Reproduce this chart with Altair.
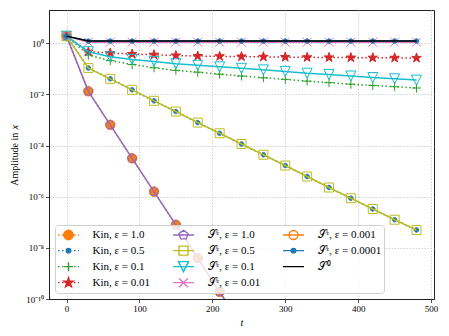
import altair as alt
import pandas as pd

# ---------------- data ----------------
t = [0, 30, 60, 90, 120, 150, 180, 210, 240, 270, 300, 330, 360, 390, 420, 450, 480]

kin_1_0 = [1.9, 1.32e-2, 6.46e-4, 3.16e-5, 1.58e-6, 7.94e-8, 3.98e-9, 1.91e-10, 9.5e-12,
           None, None, None, None, None, None, None, None]
kin_0_5 = [1.9, 0.107, 0.0407, 0.0151, 5.62e-3, 2.14e-3, 7.94e-4, 3.02e-4, 1.15e-4,
           4.37e-5, 1.66e-5, 6.17e-6, 2.29e-6, 8.71e-7, 3.31e-7, 1.26e-7, 5.01e-8]
kin_0_1 = [1.9, 0.347, 0.209, 0.148, 0.110, 0.0871, 0.0741, 0.0617, 0.0525,
           0.0447, 0.0389, 0.0331, 0.0288, 0.0251, 0.0224, 0.0200, 0.0178]
kin_0_01 = [1.9, 0.468, 0.417, 0.380, 0.355, 0.331, 0.316, 0.309, 0.302,
            0.295, 0.288, 0.282, 0.279, 0.275, 0.272, 0.269, 0.266]
s_1_0 = [1.9, 1.32e-2, 6.46e-4, 3.16e-5, 1.58e-6, 7.94e-8, 3.98e-9, 1.91e-10, 9.5e-12,
         None, None, None, None, None, None, None, None]
s_0_5 = [1.9, 0.107, 0.0407, 0.0151, 5.62e-3, 2.14e-3, 7.94e-4, 3.02e-4, 1.15e-4,
         4.37e-5, 1.66e-5, 6.17e-6, 2.29e-6, 8.71e-7, 3.31e-7, 1.26e-7, 5.01e-8]
s_0_1 = [1.9, 0.468, 0.295, 0.234, 0.195, 0.158, 0.138, 0.120, 0.105,
         0.0912, 0.0794, 0.0676, 0.0603, 0.0525, 0.0457, 0.0407, 0.0363]
s_0_01 = [1.9, 1.1, 1.1, 1.1, 1.1, 1.1, 1.1, 1.1, 1.1,
          1.1, 1.1, 1.1, 1.1, 1.1, 1.1, 1.1, 1.1]
s_0_001 = [None] * 17  # not visible in the picture
s_0_0001 = [1.9, 1.22, 1.22, 1.22, 1.22, 1.22, 1.22, 1.22, 1.22,
            1.22, 1.22, 1.22, 1.22, 1.22, 1.22, 1.22, 1.22]
s_0 = [1.9, 1.22, 1.22, 1.22, 1.22, 1.22, 1.22, 1.22, 1.22,
       1.22, 1.22, 1.22, 1.22, 1.22, 1.22, 1.22, 1.22]

labels = ["Kin, ε = 1.0", "Kin, ε = 0.5", "Kin, ε = 0.1", "Kin, ε = 0.01",
          "𝒮ᵋ, ε = 1.0", "𝒮ᵋ, ε = 0.5", "𝒮ᵋ, ε = 0.1", "𝒮ᵋ, ε = 0.01",
          "𝒮ᵋ, ε = 0.001", "𝒮ᵋ, ε = 0.0001", "𝒮⁰"]
values = [kin_1_0, kin_0_5, kin_0_1, kin_0_01, s_1_0, s_0_5, s_0_1, s_0_01,
          s_0_001, s_0_0001, s_0]

y_ticks = [1e-10, 1e-8, 1e-6, 1e-4, 1e-2, 1]
x_ticks = [0, 100, 200, 300, 400, 500]

# ---------------- styles ----------------
colors = ["#ff7f0e", "#1f77b4", "#2ca02c", "#d62728",
          "#9467bd", "#bcbd22", "#17becf", "#e377c2",
          "#ff7f0e", "#1f77b4", "#000000"]
dotted = [True, True, True, True, False, False, False, False, False, False, False]
markers = ["circle", "circle", "plus", "star", "pent", "square", "tri", "cross",
           "circle", "circle", None]
msize = [9.5, 4.5, 9, 10, 9.5, 9, 10, 9, 9, 4.5, 0]          # box width px
filled = [True, True, False, True, False, False, False, False, False, True, False]

STAR = [(0, -1), (0.225, -0.309), (0.951, -0.309), (0.363, 0.118), (0.588, 0.809),
        (0, 0.382), (-0.588, 0.809), (-0.363, 0.118), (-0.951, -0.309), (-0.225, -0.309)]
PENT = [(0, -1), (0.951, -0.309), (0.588, 0.809), (-0.588, 0.809), (-0.951, -0.309)]
SQUARE = [(-1, -1), (1, -1), (1, 1), (-1, 1)]
TRI = [(-1, -1), (1, -1), (0, 1)]


def f(v):
    return f"{v:.3f}"


def poly(pts, k):
    return "M" + "L".join(f"{f(x * k)},{f(y * k)}" for x, y in pts) + "Z"


def marker_path(kind, k):
    if kind == "circle":
        return f"M{f(-k)},0A{f(k)},{f(k)} 0 1 0 {f(k)},0A{f(k)},{f(k)} 0 1 0 {f(-k)},0Z"
    if kind == "plus":
        return f"M{f(-k)},0L{f(k)},0M0,{f(-k)}L0,{f(k)}"
    if kind == "cross":
        return f"M{f(-k)},{f(-k)}L{f(k)},{f(k)}M{f(-k)},{f(k)}L{f(k)},{f(-k)}"
    if kind == "star":
        return poly(STAR, k)
    if kind == "pent":
        return poly(PENT, k)
    if kind == "square":
        return poly(SQUARE, k)
    if kind == "tri":
        return poly(TRI, k)
    return ""


LEG_SIZE = 100          # legend symbol box 10px -> 1 unit = 5px
UNIT = 5.0
HALF = 10.5             # half handle length in px


def legend_path(i):
    if dotted[i]:
        segs = []
        s = -HALF
        while s < HALF:
            e = min(s + 1.5, HALF)
            segs.append(f"M{f(s / UNIT)},0L{f(e / UNIT)},0")
            s += 4.0
        line = "".join(segs)
    else:
        line = f"M{f(-HALF / UNIT)},0L{f(HALF / UNIT)},0"
    m = marker_path(markers[i], msize[i] / 2 / UNIT) if markers[i] else ""
    return line + m


# ---------------- build data table ----------------
rows = []
for name, vals in zip(labels, values):
    for ti, v in zip(t, vals):
        rows.append({"series": name, "t": ti, "v": v})
df = pd.DataFrame(rows)

label_expr = ("datum.value == 1 ? '10⁰' : datum.value == 0.01 ? '10⁻²' : "
              "datum.value == 0.0001 ? '10⁻⁴' : datum.value == 0.000001 ? '10⁻⁶' : "
              "datum.value == 0.00000001 ? '10⁻⁸' : '10⁻¹⁰'")

X = alt.X("t:Q", scale=alt.Scale(domain=[-24, 504], nice=False, zero=False),
          axis=alt.Axis(values=x_ticks, title="t", titleFontStyle="italic",
                        format="d", grid=True, titlePadding=4))
Y = alt.Y("v:Q", scale=alt.Scale(type="log", domain=[1e-10, 20], nice=False),
          axis=alt.Axis(values=y_ticks, labelExpr=label_expr, title="Amplitude in 𝑥",
                        grid=True, titlePadding=6))

layers = []
for i, name in enumerate(labels):
    base = alt.Chart(df).transform_filter(alt.datum.series == name)
    lkw = dict(color=colors[i], strokeWidth=1.5, clip=True)
    if dotted[i]:
        lkw["strokeDash"] = [1.5, 2.5]
    layers.append(base.mark_line(**lkw).encode(x=X, y=Y))
    if markers[i]:
        pkw = dict(shape=marker_path(markers[i], 1.0), size=msize[i] ** 2,
                   stroke=colors[i], strokeWidth=1, opacity=1, clip=True)
        if filled[i]:
            pkw["fill"] = colors[i]
            pkw["filled"] = True
            pkw["fillOpacity"] = 1
        else:
            pkw["filled"] = False
        layers.append(base.mark_point(**pkw).encode(x=X, y=Y))

# legend (Vega fills the 3 columns top-to-bottom, like the original)
leg_domain = list(labels)
leg_shapes = [legend_path(i) for i in range(len(labels))]
leg_strokes = list(colors)
leg_fills = [colors[i] if filled[i] else "transparent" for i in range(len(labels))]

legend = alt.Legend(title=None, orient="bottom-left", offset=6, columns=3,
                    padding=2, columnPadding=21, rowPadding=0, clipHeight=15.3,
                    symbolSize=LEG_SIZE, symbolOffset=5.5, labelOffset=18,
                    symbolStrokeWidth=1.4, labelFont="Liberation Serif",
                    labelFontSize=11, labelColor="#000", labelLimit=300,
                    fillColor="rgba(255,255,255,0.8)", strokeColor="#d0d0d0",
                    cornerRadius=3)

leg_layer = alt.Chart(pd.DataFrame({"series": leg_domain})).transform_filter(
    "false").mark_point(size=LEG_SIZE, opacity=1, strokeWidth=1.4).encode(
    shape=alt.Shape("series:N", scale=alt.Scale(domain=leg_domain, range=leg_shapes),
                    legend=legend),
    stroke=alt.Stroke("series:N", scale=alt.Scale(domain=leg_domain, range=leg_strokes),
                      legend=legend),
    fill=alt.Fill("series:N", scale=alt.Scale(domain=leg_domain, range=leg_fills),
                  legend=legend),
)
layers.append(leg_layer)

chart = alt.layer(*layers).properties(
    width=385, height=289,
    padding={"left": 41, "top": 2, "right": 7, "bottom": 29},
    autosize=alt.AutoSizeParams(type="none"),
).configure(font="Liberation Serif").configure_axis(
    labelFont="Liberation Serif", labelFontSize=9, labelColor="#000",
    titleFont="Liberation Serif", titleFontSize=10, titleFontWeight="normal",
    titleColor="#000", tickColor="#222", tickSize=3.5, tickWidth=0.8,
    domainColor="#222", domainWidth=1, gridColor="#c8c8c8", gridDash=[1.5, 1.5],
    gridWidth=0.8, labelPadding=2,
).configure_view(stroke="#222", strokeWidth=1)

chart.save("out.html", embed_options={"renderer": "svg", "actions": False})
